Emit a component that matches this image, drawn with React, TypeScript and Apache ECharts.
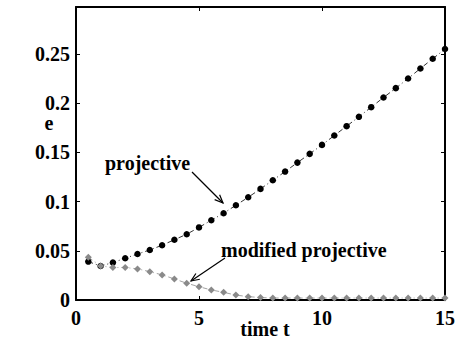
import React, { useEffect, useRef } from "react";
import * as echarts from "echarts";

// time samples
const times: number[] = [
  0.5, 1, 1.5, 2, 2.5, 3, 3.5, 4, 4.5, 5, 5.5, 6, 6.5, 7, 7.5, 8, 8.5, 9, 9.5, 10,
  10.5, 11, 11.5, 12, 12.5, 13, 13.5, 14, 14.5, 15,
];

// error of the projective scheme
const projective: number[] = [
  0.039, 0.0345, 0.038, 0.0424, 0.0467, 0.0508, 0.0556, 0.0612, 0.0668, 0.0737,
  0.081, 0.0881, 0.0962, 0.1043, 0.1128, 0.1216, 0.1304, 0.1395, 0.1484, 0.1575,
  0.167, 0.1765, 0.186, 0.1958, 0.2056, 0.2151, 0.2249, 0.2351, 0.2449, 0.2548,
];

// error of the modified projective scheme
const modifiedProjective: number[] = [
  0.0435, 0.0346, 0.033, 0.033, 0.0316, 0.0288, 0.0255, 0.0214, 0.017, 0.0135,
  0.0102, 0.0078, 0.005, 0.0034, 0.0025, 0.002, 0.002, 0.002, 0.002, 0.002,
  0.002, 0.002, 0.002, 0.002, 0.002, 0.002, 0.002, 0.002, 0.002, 0.002,
];

const xTicks = { min: 0, max: 15, interval: 5 };
const yTicks = { min: 0, max: 0.2975, interval: 0.05 };

const FONT = "Liberation Serif";

export default function App() {
  const ref = useRef<HTMLDivElement>(null);

  useEffect(() => {
    if (!ref.current) return;
    const chart = echarts.init(ref.current, undefined, { renderer: "svg" });

    const axisLine = { show: true, onZero: false, lineStyle: { color: "#000", width: 2 } };
    const tick = { show: true, inside: true, length: 4, lineStyle: { color: "#000", width: 1 } };
    const label = {
      fontFamily: FONT,
      fontWeight: "bold" as const,
      fontSize: 20,
      color: "#000",
    };

    // simple open-headed arrow for the annotations
    const arrow = (x1: number, y1: number, x2: number, y2: number) => {
      const ang = Math.atan2(y2 - y1, x2 - x1);
      const L = 9;
      const spread = 0.4;
      const a = [x2 - L * Math.cos(ang - spread), y2 - L * Math.sin(ang - spread)];
      const b = [x2 - L * Math.cos(ang + spread), y2 - L * Math.sin(ang + spread)];
      return [
        {
          type: "line",
          shape: { x1, y1, x2, y2 },
          style: { stroke: "#000", lineWidth: 1.2 },
        },
        {
          type: "polyline",
          shape: { points: [a, [x2, y2], b] },
          style: { stroke: "#000", lineWidth: 1.2, fill: null },
        },
      ];
    };

    const textStyle = {
      fontFamily: FONT,
      fontWeight: "bold",
      fontSize: 20,
      fill: "#000",
    };

    chart.setOption({
      animation: false,
      grid: { left: 76, right: 9, top: 7, bottom: 44, containLabel: false },
      xAxis: [
        {
          type: "value",
          ...xTicks,
          position: "bottom",
          axisLine,
          axisTick: tick,
          splitLine: { show: false },
          axisLabel: { ...label, margin: 8 },
        },
        {
          type: "value",
          ...xTicks,
          position: "top",
          axisLine,
          axisTick: tick,
          splitLine: { show: false },
          axisLabel: { show: false },
        },
      ],
      yAxis: [
        {
          type: "value",
          ...yTicks,
          position: "left",
          axisLine,
          axisTick: tick,
          splitLine: { show: false },
          axisLabel: { ...label, margin: 6, showMaxLabel: false },
        },
        {
          type: "value",
          ...yTicks,
          position: "right",
          axisLine,
          axisTick: tick,
          splitLine: { show: false },
          axisLabel: { show: false },
        },
      ],
      series: [
        {
          name: "projective",
          type: "line",
          data: times.map((t, i) => [t, projective[i]]),
          symbol: "circle",
          symbolSize: 6.5,
          itemStyle: { color: "#000" },
          lineStyle: { color: "#000", width: 0.8, type: [5, 3, 1, 3] },
        },
        {
          name: "modified projective",
          type: "line",
          data: times.map((t, i) => [t, modifiedProjective[i]]),
          symbol: "diamond",
          symbolSize: 7,
          itemStyle: { color: "#8a8a8a" },
          lineStyle: { color: "#8a8a8a", width: 0.8, type: [5, 3, 1, 3] },
        },
      ],
      graphic: [
        {
          type: "text",
          x: 49,
          y: 123,
          style: { ...textStyle, text: "e", align: "center", verticalAlign: "middle" },
        },
        {
          type: "text",
          x: 265,
          y: 329,
          style: { ...textStyle, text: "time t", align: "center", verticalAlign: "middle" },
        },
        {
          type: "text",
          x: 105,
          y: 163,
          style: { ...textStyle, text: "projective", align: "left", verticalAlign: "middle" },
        },
        {
          type: "text",
          x: 221,
          y: 250,
          style: {
            ...textStyle,
            text: "modified projective",
            align: "left",
            verticalAlign: "middle",
          },
        },
        ...arrow(192, 172, 223, 203),
        ...arrow(225, 258, 191, 281),
      ],
    });

    return () => chart.dispose();
  }, []);

  return (
    <div
      ref={ref}
      style={{ position: "fixed", left: 0, top: 0, width: 458, height: 344, background: "#fff" }}
    />
  );
}
